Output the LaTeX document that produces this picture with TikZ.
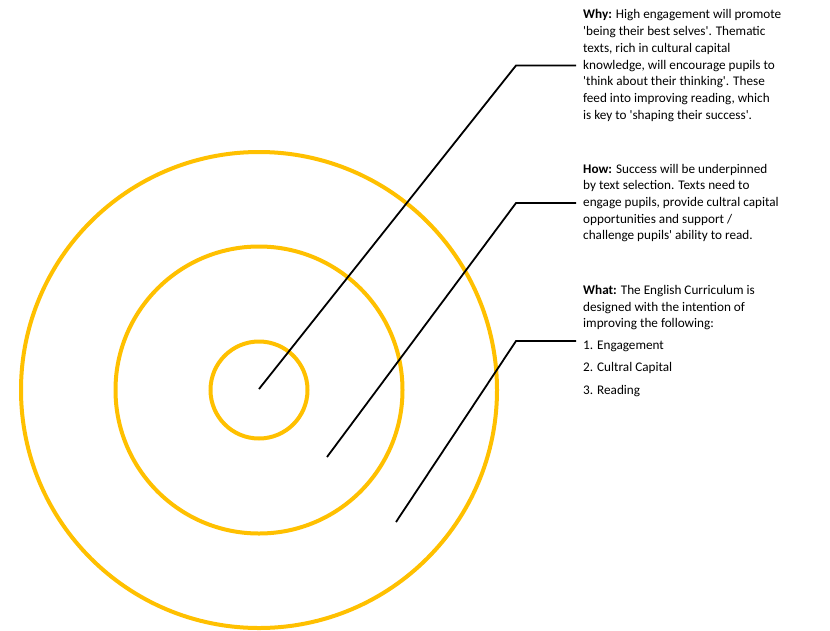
\documentclass[tikz,border=0pt]{standalone}
\usepackage{fontspec}
\setmainfont{Carlito}[Ligatures=TeXOff]
\definecolor{gold}{HTML}{FFC000}

\begin{document}
\begin{tikzpicture}[x=1pt,y=-1pt,
  ring/.style={draw=gold,line width=4pt},
  leader/.style={draw=black,line width=1.8pt},
  note/.style={align=left,anchor=west,inner xsep=7pt,inner ysep=0pt,
    font=\fontsize{13.2}{16.7}\selectfont}]
\useasboundingbox (0,0) rectangle (830,630);
% target rings
\coordinate (c) at (259,390);
\draw[ring] (c) circle[radius=48.5pt];
\draw[ring] (c) circle[radius=143.5pt];
\draw[ring] (c) circle[radius=238pt];
% ends of the leaders
\coordinate (p1) at (259,389);
\coordinate (p2) at (327,457);
\coordinate (p3) at (396,522);
% notes
\node[note] (why) at (576,65.5) {\textbf{Why:} High engagement will promote\\
'being their best selves'. Thematic\\
texts, rich in cultural capital\\
knowledge, will encourage pupils to\\
'think about their thinking'. These\\
feed into improving reading, which\\
is key to 'shaping their success'.};
\node[note] (how) at (576,203) {\textbf{How:} Success will be underpinned\\
by text selection. Texts need to\\
engage pupils, provide cultral capital\\
opportunities and support /\\
challenge pupils' ability to read.};
\node[note] (what) at (576,341) {\textbf{What:} The English Curriculum is\\
designed with the intention of\\
improving the following:\\[4.5pt]
1. Engagement\\[6pt]
2. Cultral Capital\\[6pt]
3. Reading};
\draw[leader] (p1) -- ([xshift=-60pt]why.west) -- (why.west);
\draw[leader] (p2) -- ([xshift=-60pt]how.west) -- (how.west);
\draw[leader] (p3) -- ([xshift=-60pt]what.west) -- (what.west);
\end{tikzpicture}
\end{document}
